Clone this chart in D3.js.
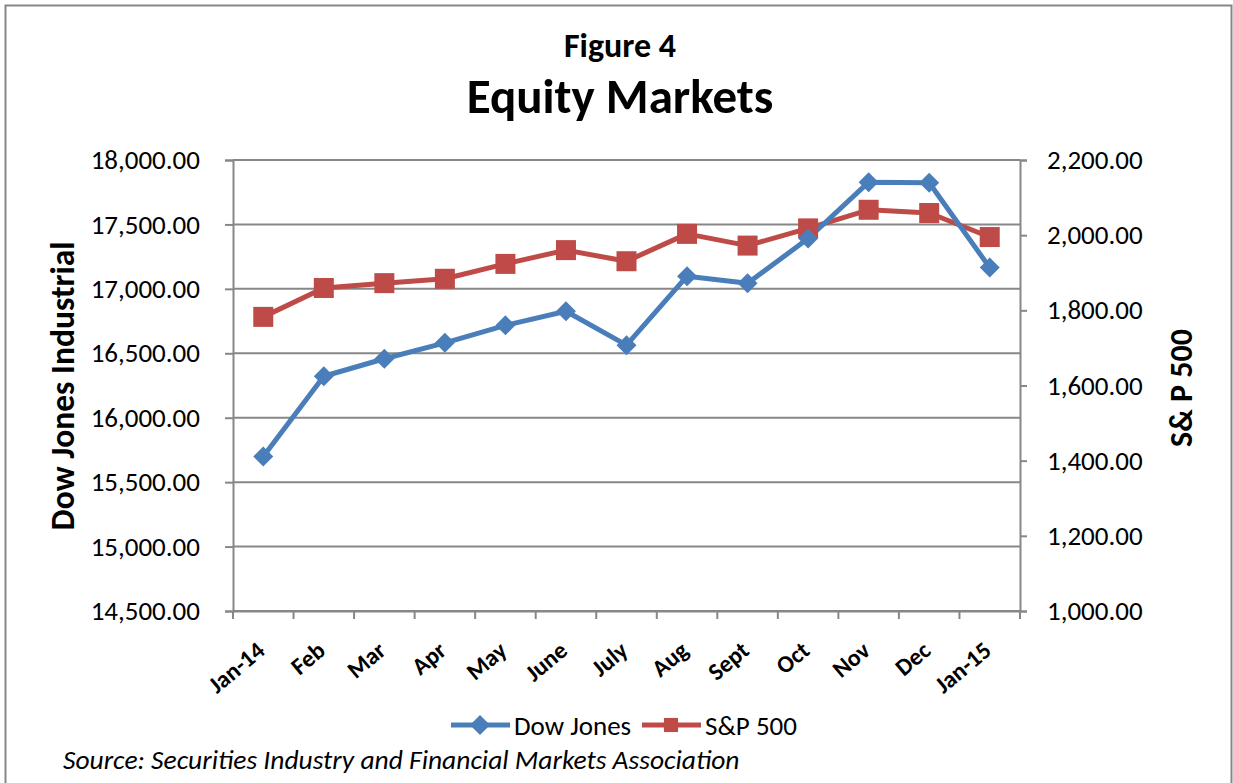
<!DOCTYPE html>
<html>
<head>
<meta charset="utf-8">
<script src="https://cdn.jsdelivr.net/npm/d3@7"></script>
<style>
  body { margin: 0; background: #fff; }
  svg { display: block; font-family: Carlito, Calibri, Lato, sans-serif; }
</style>
</head>
<body>
<svg id="chart" width="1233" height="783"></svg>
<script>
// month-end closes, Jan 2014 - Jan 2015
const months = ["Jan-14", "Feb", "Mar", "Apr", "May", "June", "July", "Aug", "Sept", "Oct", "Nov", "Dec", "Jan-15"];
const dowJones = [15698.85, 16321.71, 16457.66, 16580.84, 16717.17, 16826.60, 16563.30, 17098.45, 17042.90, 17390.52, 17828.24, 17823.07, 17164.95];
const sp500 = [1782.59, 1859.45, 1872.34, 1883.95, 1923.57, 1960.23, 1930.67, 2003.37, 1972.29, 2018.05, 2067.56, 2058.90, 1994.99];
const dowTicks = [14500, 15000, 15500, 16000, 16500, 17000, 17500, 18000];
const spTicks = [1000, 1200, 1400, 1600, 1800, 2000, 2200];

const blue = "#4a7ebb";
const red = "#be4b48";
const gray = "#878787";
const font = "Carlito, Calibri, Lato, sans-serif";

const svg = d3.select("#chart");
const plot = { left: 233, right: 1020, top: 160, bottom: 611 };

// outer frame
svg.append("rect")
  .attr("x", 5.5).attr("y", 5.5)
  .attr("width", 1226).attr("height", 800)
  .attr("fill", "#fff")
  .attr("stroke", gray).attr("stroke-width", 2);

const x = d3.scaleBand().domain(months).range([plot.left, plot.right]);
const yL = d3.scaleLinear().domain([14500, 18000]).range([plot.bottom, plot.top]);
const yR = d3.scaleLinear().domain([1000, 2200]).range([plot.bottom, plot.top]);
const fmt = d3.format(",.2f");
const cx = d => x(d) + x.bandwidth() / 2;

// gridlines
svg.append("g")
  .selectAll("line")
  .data(dowTicks)
  .join("line")
  .attr("x1", plot.left).attr("x2", plot.right)
  .attr("y1", d => yL(d)).attr("y2", d => yL(d))
  .attr("stroke", gray).attr("stroke-width", 2);

// left axis
const left = svg.append("g")
  .attr("transform", `translate(${plot.left},0)`)
  .call(d3.axisLeft(yL).tickValues(dowTicks).tickFormat(fmt).tickSize(8).tickPadding(25));

// right axis
const right = svg.append("g")
  .attr("transform", `translate(${plot.right},0)`)
  .call(d3.axisRight(yR).tickValues(spTicks).tickFormat(fmt).tickSize(7).tickPadding(20));

// bottom axis, ticks between categories
const bottom = svg.append("g")
  .attr("transform", `translate(0,${plot.bottom})`)
  .call(d3.axisBottom(x).tickSize(0).tickFormat(""));
bottom.selectAll(".sep")
  .data(months.concat([null]))
  .join("line")
  .attr("class", "sep")
  .attr("x1", (d, i) => plot.left + i * x.step())
  .attr("x2", (d, i) => plot.left + i * x.step())
  .attr("y1", 0).attr("y2", 8)
  .attr("stroke", gray).attr("stroke-width", 2);

[left, right, bottom].forEach(g => {
  g.attr("font-family", font).attr("font-size", null);
  g.selectAll(".domain").attr("stroke", gray).attr("stroke-width", 2);
  g.selectAll(".tick line").attr("stroke", gray).attr("stroke-width", 2);
  g.selectAll(".tick text").attr("fill", "#000").style("font-size", "27px");
});

// month labels
svg.append("g")
  .selectAll("text")
  .data(months)
  .join("text")
  .attr("transform", d => `translate(${cx(d) + 3},${plot.bottom + 42}) rotate(-40)`)
  .attr("text-anchor", "end")
  .style("font-size", "24px")
  .style("font-weight", "bold")
  .text(d => d);

// lines and markers
const lineDow = d3.line().x((d, i) => cx(months[i])).y(d => yL(d));
const lineSp = d3.line().x((d, i) => cx(months[i])).y(d => yR(d));

svg.append("path").datum(sp500)
  .attr("d", lineSp).attr("fill", "none")
  .attr("stroke", red).attr("stroke-width", 5).attr("stroke-linejoin", "round");
svg.append("path").datum(dowJones)
  .attr("d", lineDow).attr("fill", "none")
  .attr("stroke", blue).attr("stroke-width", 5).attr("stroke-linejoin", "round");

svg.append("g")
  .selectAll("rect")
  .data(sp500)
  .join("rect")
  .attr("x", (d, i) => cx(months[i]) - 10)
  .attr("y", d => yR(d) - 10)
  .attr("width", 20).attr("height", 20)
  .attr("fill", red);

const diamond = d3.symbol().type(d3.symbolSquare).size(200);
svg.append("g")
  .selectAll("path")
  .data(dowJones)
  .join("path")
  .attr("d", diamond)
  .attr("transform", (d, i) => `translate(${cx(months[i])},${yL(d)}) rotate(45)`)
  .attr("fill", blue);

// titles
svg.append("text")
  .attr("x", 620).attr("y", 57)
  .attr("text-anchor", "middle")
  .style("font-size", "34px").style("font-weight", "bold")
  .text("Figure 4");
svg.append("text")
  .attr("x", 620).attr("y", 113)
  .attr("text-anchor", "middle")
  .style("font-size", "49px").style("font-weight", "bold")
  .text("Equity Markets");

svg.append("text")
  .attr("transform", `translate(74,386) rotate(-90)`)
  .attr("text-anchor", "middle")
  .style("font-size", "33.5px").style("font-weight", "bold")
  .text("Dow Jones Industrial");
svg.append("text")
  .attr("transform", `translate(1192,388) rotate(-90)`)
  .attr("text-anchor", "middle")
  .style("font-size", "32px").style("font-weight", "bold")
  .text("S& P 500");

// legend
const legendItems = [
  { name: "Dow Jones", color: blue, shape: "diamond", x: 451 },
  { name: "S&P 500", color: red, shape: "square", x: 642 }
];
const leg = svg.append("g").selectAll("g")
  .data(legendItems)
  .join("g")
  .attr("transform", d => `translate(${d.x},725)`);
leg.append("line")
  .attr("x1", 0).attr("x2", 59)
  .attr("stroke", d => d.color).attr("stroke-width", 5);
leg.append("path")
  .attr("d", d3.symbol().type(d3.symbolSquare).size(200))
  .attr("transform", d => d.shape === "diamond" ? "translate(29,0) rotate(45)" : "translate(29,0)")
  .attr("fill", d => d.color);
leg.append("text")
  .attr("x", 63).attr("y", 10)
  .style("font-size", "27px")
  .text(d => d.name);

// source note
svg.append("text")
  .attr("x", 63).attr("y", 769)
  .style("font-size", "27.5px").style("font-style", "italic")
  .text("Source: Securities Industry and Financial Markets Association");
</script>
</body>
</html>
